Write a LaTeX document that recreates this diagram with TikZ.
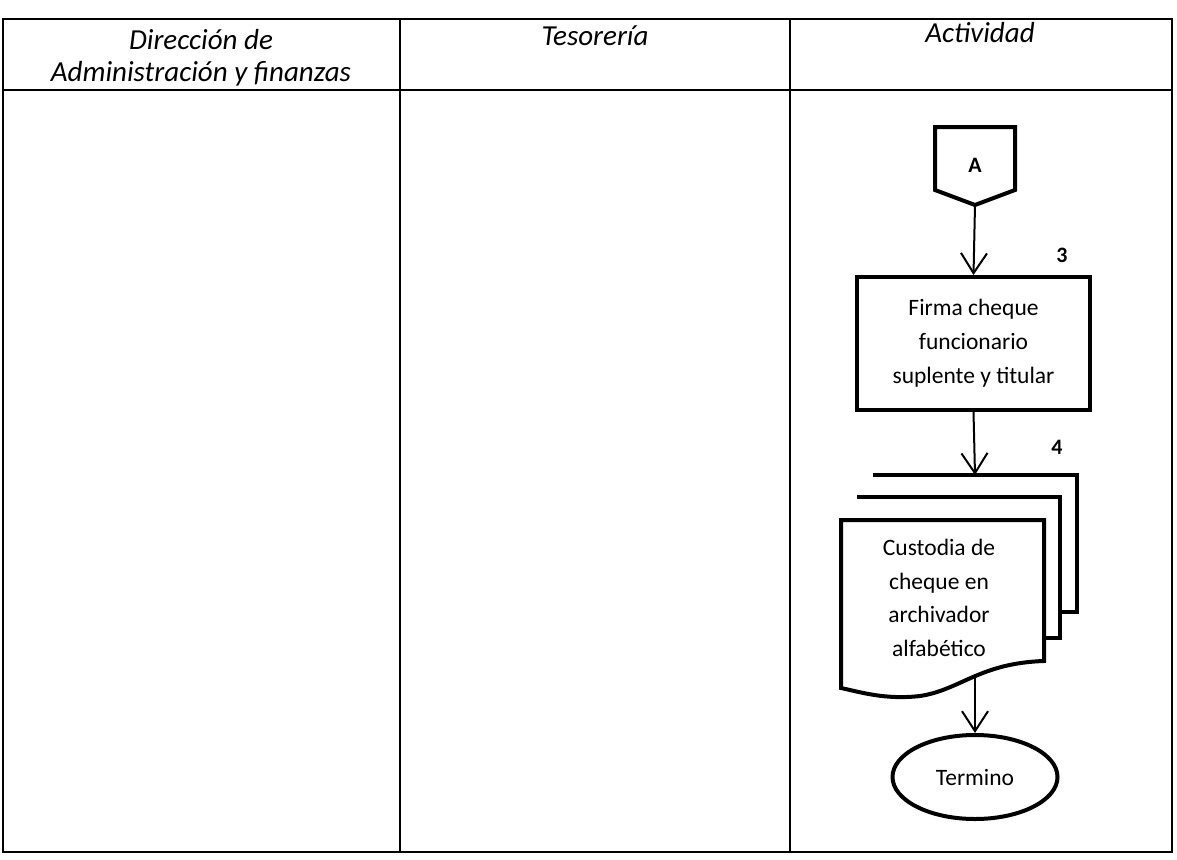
\documentclass[tikz,border=0pt]{standalone}
\usepackage{fontspec}
\setmainfont{Carlito}
\usetikzlibrary{arrows.meta,shapes.geometric}

\tikzset{
  flow/.style={line width=2pt,-{Straight Barb[length=20pt,width=26pt,line width=2pt]}},
  shape line/.style={line width=4pt,line join=miter},
  header/.style={font=\fontsize{29}{32}\selectfont\itshape,align=center},
  body/.style={font=\fontsize{23.5}{34}\selectfont,align=center},
  stepnum/.style={font=\fontsize{22}{24}\selectfont\bfseries}
}

\begin{document}
\begin{tikzpicture}[x=1pt,y=-1pt]

		\useasboundingbox (0,0) rectangle (1177,859);

		% table
		\draw[line width=1.6pt] (3,19) rectangle (1172,852);
		\draw[line width=1.6pt] (3,90) -- (1172,90);
		\draw[line width=1.6pt] (400,19) -- (400,852);
		\draw[line width=1.6pt] (790,19) -- (790,852);

		\node[header] (h1) at (201,58) {Dirección de\\Administración y finanzas};
		\node[header] (h2) at (595,36) {Tesorería};
		\node[header] (h3) at (980,33) {Actividad};

		% off-page connector
		\draw[shape line] (935,127) -- (1015,127) -- (1015,190) -- (975,205) -- (935,190) -- cycle;
		\node[font=\fontsize{22}{24}\selectfont\bfseries] (A) at (975,165) {A};
		\coordinate (Atip) at (975,205);

		% step 3
		\node[draw,shape line,body,minimum width=233pt,minimum height=133pt] (proc) at (973.5,343.5)
			{Firma cheque\\funcionario\\suplente y titular};
		\node[stepnum] (n3) at (1062,255) {3};

		\draw[flow] (Atip) -- (proc.north);

		% step 4
		\draw[shape line,fill=white] (873,475) -- (1077,475) -- (1077,612) -- (1060,612);
		\draw[shape line,fill=white] (857,497) -- (1060,497) -- (1060,638) -- (1044,638);
		\draw[shape line,fill=white] (841,520) -- (1044,520) -- (1044,661)
			.. controls (980,663) and (960,690) .. (920,696)
			.. controls (885,700) and (860,692) .. (841,688) -- cycle;
		\node[font=\fontsize{23.5}{33.5}\selectfont,align=center] (doc) at (939,598)
			{Custodia de\\cheque en\\archivador\\alfabético};
		\node[stepnum] (n4) at (1057,447) {4};
		\coordinate (stack) at (975,475);
		\coordinate (wave) at (975,676);

		\draw[flow] (proc.south) -- (stack);

		% end
		\node[draw,shape line,ellipse,body,minimum width=165pt,minimum height=84pt] (fin) at (975,777) {Termino};

		\draw[flow] (wave) -- (fin.north);

	\end{tikzpicture}
\end{document}
